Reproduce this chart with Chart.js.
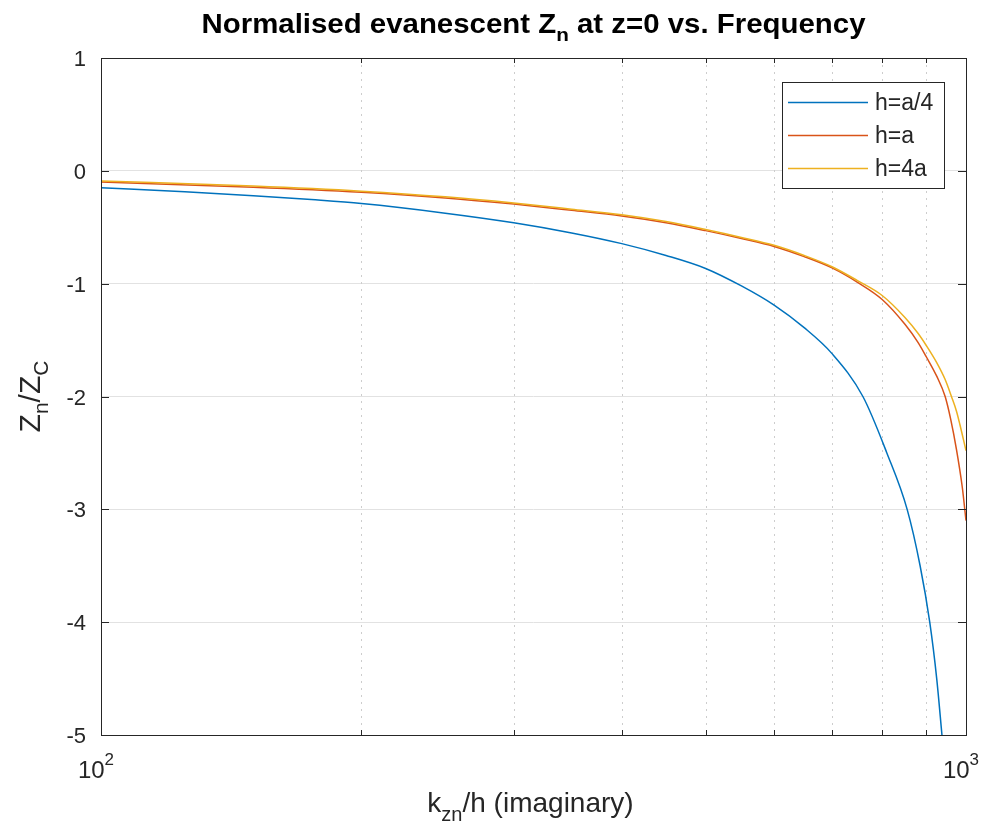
<!DOCTYPE html>
<html>
<head>
<meta charset="utf-8">
<script src="https://cdn.jsdelivr.net/npm/chart.js@4.4.1/dist/chart.umd.min.js"></script>
<style>
  html, body { margin: 0; padding: 0; background: #fff; }
  #chart { display: block; }
</style>
</head>
<body>
<canvas id="chart" width="990" height="832"></canvas>
<script>
// values (x = k_zn/h, y = Z_n/Z_C)
const freqA4 = [100, 125, 150, 175, 200, 250, 300, 350, 400, 450, 500, 550, 600, 650, 700, 760, 810, 855, 885, 908, 925, 938];
const zA4 = [-0.15, -0.185, -0.22, -0.255, -0.29, -0.375, -0.46, -0.55, -0.645, -0.75, -0.865, -1.02, -1.19, -1.39, -1.62, -2.0, -2.5, -3.0, -3.5, -4.0, -4.5, -5.0];

const freqA = [100, 150, 200, 250, 300, 350, 400, 450, 500, 550, 600, 650, 700, 750, 800, 850, 880, 900, 925, 946, 960, 975, 990, 1000];
const zA = [-0.10, -0.145, -0.19, -0.24, -0.295, -0.35, -0.40, -0.46, -0.53, -0.60, -0.67, -0.76, -0.86, -0.99, -1.14, -1.36, -1.52, -1.65, -1.82, -2.0, -2.2, -2.47, -2.8, -3.1];

const freq4A = [100, 150, 200, 250, 300, 350, 400, 450, 500, 550, 600, 650, 700, 750, 800, 850, 880, 900, 925, 946, 962, 975, 984, 1000];
const z4A = [-0.09, -0.135, -0.18, -0.23, -0.285, -0.34, -0.39, -0.45, -0.52, -0.59, -0.66, -0.75, -0.85, -0.975, -1.105, -1.30, -1.44, -1.55, -1.70, -1.85, -2.0, -2.13, -2.25, -2.48];

const seriesLabels = ['h=a/4', 'h=a', 'h=4a'];
const seriesColors = ['#0072BD', '#D95319', '#EDB120'];

const yTickValues = [1, 0, -1, -2, -3, -4, -5];
const xMinorTicks = [200, 300, 400, 500, 600, 700, 800, 900];
const xMajorTicks = [100, 1000];

const FONT = '"Liberation Sans", Arial, Helvetica, sans-serif';

const toPoints = (xs, ys) => xs.map((x, i) => ({ x: x, y: ys[i] }));

// draw a run of text pieces (with sub/superscripts) starting at x
const drawPieces = (ctx, pieces, x, y) => {
    let cx = x;
    pieces.forEach(p => {
        ctx.font = p.font;
        ctx.fillText(p.text, cx, y + (p.dy || 0));
        cx += ctx.measureText(p.text).width;
    });
};
const piecesWidth = (ctx, pieces) => {
    let w = 0;
    pieces.forEach(p => { ctx.font = p.font; w += ctx.measureText(p.text).width; });
    return w;
};

const matlabAxes = {
    id: 'matlabAxes',
    beforeDatasetsDraw(chart) {
        const { ctx, chartArea: a, scales: { x } } = chart;
        ctx.save();
        ctx.strokeStyle = '#cdcdcd';
        ctx.lineWidth = 1;
        ctx.setLineDash([2, 5]);
        xMinorTicks.forEach(v => {
            const px = Math.round(x.getPixelForValue(v)) + 0.5;
            ctx.beginPath();
            ctx.moveTo(px, a.top);
            ctx.lineTo(px, a.bottom);
            ctx.stroke();
        });
        ctx.restore();
    },
    afterDatasetsDraw(chart) {
        const { ctx, chartArea: a, scales: { x, y } } = chart;
        ctx.save();
        ctx.strokeStyle = '#262626';
        ctx.lineWidth = 1;
        ctx.setLineDash([]);

        // tick marks pointing inward
        yTickValues.forEach(v => {
            const py = Math.round(y.getPixelForValue(v)) + 0.5;
            ctx.beginPath();
            ctx.moveTo(a.left, py); ctx.lineTo(a.left + 8, py);
            ctx.moveTo(a.right, py); ctx.lineTo(a.right - 8, py);
            ctx.stroke();
        });
        xMinorTicks.forEach(v => {
            const px = Math.round(x.getPixelForValue(v)) + 0.5;
            ctx.beginPath();
            ctx.moveTo(px, a.bottom); ctx.lineTo(px, a.bottom - 5);
            ctx.moveTo(px, a.top); ctx.lineTo(px, a.top + 5);
            ctx.stroke();
        });

        // box
        ctx.strokeRect(Math.round(a.left) + 0.5, Math.round(a.top) + 0.5,
            Math.round(a.right - a.left), Math.round(a.bottom - a.top));

        // legend box inside the axes, top right
        const lx = 782, ly = 82, lw = 162, lh = 106;
        ctx.fillStyle = '#fff';
        ctx.fillRect(lx, ly, lw, lh);
        ctx.strokeRect(lx + 0.5, ly + 0.5, lw, lh);
        chart.data.datasets.forEach((ds, i) => {
            const rowY = ly + 20.5 + i * 33;
            ctx.strokeStyle = ds.borderColor;
            ctx.lineWidth = 1.5;
            ctx.beginPath();
            ctx.moveTo(lx + 6, rowY); ctx.lineTo(lx + 86, rowY);
            ctx.stroke();
            ctx.fillStyle = '#262626';
            ctx.font = '23px ' + FONT;
            ctx.textBaseline = 'middle';
            ctx.textAlign = 'left';
            ctx.fillText(ds.label, lx + 93, rowY + 1);
        });
        ctx.restore();
    },
    afterDraw(chart) {
        const { ctx, chartArea: a, scales: { x, y } } = chart;
        ctx.save();
        ctx.fillStyle = '#262626';
        ctx.textBaseline = 'alphabetic';

        // y tick labels
        ctx.font = '22px ' + FONT;
        ctx.textAlign = 'right';
        yTickValues.forEach(v => {
            ctx.fillText(String(v), a.left - 15, y.getPixelForValue(v) + 8);
        });

        // x tick labels 10^2 and 10^3
        ctx.textAlign = 'left';
        xMajorTicks.forEach(v => {
            const exp = String(Math.round(Math.log10(v)));
            const pieces = [
                { text: '10', font: '24px ' + FONT },
                { text: exp, font: '17px ' + FONT, dy: -13 }
            ];
            const w = piecesWidth(ctx, pieces);
            drawPieces(ctx, pieces, x.getPixelForValue(v) - w / 2 - 5, a.bottom + 43);
        });

        // title
        const title = [
            { text: 'Normalised evanescent Z', font: 'bold 27px ' + FONT },
            { text: 'n', font: 'bold 19px ' + FONT, dy: 8 },
            { text: ' at z=0 vs. Frequency', font: 'bold 27px ' + FONT }
        ];
        const tw = piecesWidth(ctx, title);
        const sx = 664 / tw;
        ctx.fillStyle = '#000';
        ctx.save();
        ctx.translate((a.left + a.right) / 2 - 332, 33);
        ctx.scale(sx, 1);
        drawPieces(ctx, title, 0, 0);
        ctx.restore();

        // x axis label
        ctx.fillStyle = '#262626';
        const xl = [
            { text: 'k', font: '28px ' + FONT },
            { text: 'zn', font: '20px ' + FONT, dy: 9 },
            { text: '/h (imaginary)', font: '28px ' + FONT }
        ];
        const xw = piecesWidth(ctx, xl);
        drawPieces(ctx, xl, (a.left + a.right) / 2 - xw / 2 - 3, 812);

        // y axis label (rotated)
        const yl = [
            { text: 'Z', font: '30px ' + FONT },
            { text: 'n', font: '21px ' + FONT, dy: 8 },
            { text: '/Z', font: '30px ' + FONT },
            { text: 'C', font: '21px ' + FONT, dy: 8 }
        ];
        const yw = piecesWidth(ctx, yl);
        ctx.save();
        ctx.translate(40, (a.top + a.bottom) / 2);
        ctx.rotate(-Math.PI / 2);
        drawPieces(ctx, yl, -yw / 2, 0);
        ctx.restore();

        ctx.restore();
    }
};

const ctx = document.getElementById('chart').getContext('2d');

new Chart(ctx, {
    type: 'line',
    data: {
        datasets: [
            { label: seriesLabels[0], data: toPoints(freqA4, zA4), borderColor: seriesColors[0], order: 2 },
            { label: seriesLabels[1], data: toPoints(freqA, zA), borderColor: seriesColors[1], order: 1 },
            { label: seriesLabels[2], data: toPoints(freq4A, z4A), borderColor: seriesColors[2], order: 0 }
        ].map(ds => Object.assign(ds, {
            borderWidth: 1.5,
            pointRadius: 0,
            fill: false,
            cubicInterpolationMode: 'monotone'
        }))
    },
    options: {
        responsive: false,
        animation: false,
        devicePixelRatio: 1,
        layout: { padding: { left: 101, top: 58, right: 24, bottom: 97 } },
        plugins: {
            legend: { display: false },
            title: { display: false },
            tooltip: { enabled: false }
        },
        scales: {
            x: {
                type: 'logarithmic',
                min: 100,
                max: 1000,
                ticks: { display: false },
                grid: { display: false, drawTicks: false },
                border: { display: false }
            },
            y: {
                type: 'linear',
                min: -5,
                max: 1,
                ticks: { display: false, stepSize: 1 },
                grid: { color: '#e2e2e2', lineWidth: 1, drawTicks: false },
                border: { display: false }
            }
        }
    },
    plugins: [matlabAxes]
});
</script>
</body>
</html>
